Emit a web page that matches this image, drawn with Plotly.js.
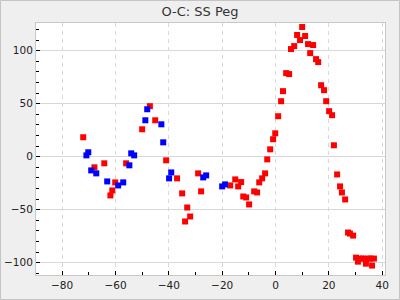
<!DOCTYPE html>
<html><head><meta charset="utf-8">
<script src="https://cdn.plot.ly/plotly-3.0.1.min.js"></script>
<style>html,body{margin:0;padding:0;background:#efefef;}#chart{width:400px;height:300px;}</style>
</head><body><div id="chart"></div>
<script>
const blueX = [-70.9,-70.2,-69.1,-67.2,-63.1,-59.0,-57.1,-54.8,-54.1,-53.0,-48.8,-48.1,-42.8,-42.1,-39.9,-39.1,-27.1,-26.0,-20.0,-18.9];
const blueY = [1.3,4.2,-12.9,-15.7,-23.3,-27.1,-24.2,-8.1,3.2,1.3,34.4,44.8,30.6,13.6,-20.4,-14.8,-19.5,-17.6,-28.0,-26.1];
const redX = [-72.1,-67.9,-64.2,-61.9,-61.2,-60.1,-56.0,-50.0,-47.1,-45.1,-41.0,-36.9,-35.0,-33.9,-33.1,-32.0,-29.0,-27.9,-17.0,-15.1,-14.0,-12.9,-12.1,-11.0,-9.9,-8.0,-6.9,-6.1,-5.0,-3.9,-3.1,-2.0,-0.9,-0.1,1.0,2.1,2.8,4.0,5.1,5.8,7.0,8.1,9.2,10.0,11.1,12.2,13.0,14.1,15.2,16.0,17.1,18.2,19.0,20.1,21.2,21.9,23.1,24.2,24.9,26.1,27.2,27.9,29.1,30.2,30.9,32.1,32.8,33.9,34.7,35.6,36.2,36.9];
const redY = [18.4,-10.0,-6.2,-36.5,-31.8,-24.2,-6.2,25.9,47.7,34.4,-3.4,-20.4,-34.6,-61.1,-47.9,-56.4,-15.7,-32.7,-27.1,-21.4,-28.0,-23.9,-37.5,-38.4,-45.0,-32.7,-33.7,-24.2,-20.4,-15.7,-2.5,7.0,16.5,22.1,38.2,52.4,61.9,78.9,78.0,101.6,104.4,114.9,110.1,122.4,113.9,106.3,97.8,105.4,92.1,89.3,67.5,62.8,52.4,43.0,39.2,10.8,-16.7,-28.0,-33.7,-40.3,-71.5,-72.5,-74.4,-95.2,-99.0,-96.1,-96.1,-100.9,-96.1,-96.1,-102.7,-96.1];
const titleText = 'O-C: SS Peg';

const traces = [
  {x: redX, y: redY, type:'scatter', mode:'markers', marker:{symbol:'square', size:6, color:'#ff0000', line:{width:0}}},
  {x: blueX, y: blueY, type:'scatter', mode:'markers', marker:{symbol:'square', size:6, color:'#0000ff', line:{width:0}}}
];
const font = {family:'DejaVu Sans, sans-serif', size:10.5, color:'#222'};
const layout = {
  width:400, height:300,
  paper_bgcolor:'#efefef', plot_bgcolor:'#ffffff',
  margin:{l:36, r:15, t:23, b:25, pad:0},
  showlegend:false,
  font: font,
  title:{text:titleText, x:0.5, xanchor:'center', xref:'container', y:(300-11)/300, yref:'container', yanchor:'middle', font:{family:'DejaVu Sans, sans-serif', size:13, color:'#333'}},
  xaxis:{range:[-89.8,41.05], tickmode:'linear', tick0:0, dtick:20, ticks:'inside', ticklen:4, tickcolor:'#000',
    showgrid:true, gridcolor:'#d8d8d8', griddash:'4px,4px', gridwidth:1, zeroline:false,
    showline:true, linecolor:'#c8c8c8', linewidth:1, mirror:true,
    minor:{dtick:10, tick0:0, ticks:'inside', ticklen:3, tickcolor:'#000', showgrid:false},
    tickfont:font},
  yaxis:{range:[-111.6,126.2], tickmode:'linear', tick0:0, dtick:50, ticks:'inside', ticklen:4, tickcolor:'#000',
    showgrid:true, gridcolor:'#d8d8d8', gridwidth:1, zeroline:false,
    showline:true, linecolor:'#c8c8c8', linewidth:1, mirror:true,
    minor:{dtick:10, tick0:0, ticks:'inside', ticklen:3, tickcolor:'#000', showgrid:false},
    tickfont:font},
  shapes:[{type:'rect', xref:'paper', yref:'paper', x0:-35.5/349, x1:1+14.5/349, y0:-24.5/252, y1:1+22.5/252,
    line:{color:'#c4c4c4', width:1}, fillcolor:'rgba(0,0,0,0)', layer:'below'}]
};
Plotly.newPlot('chart', traces, layout, {displayModeBar:false, staticPlot:true});
</script></body></html>
